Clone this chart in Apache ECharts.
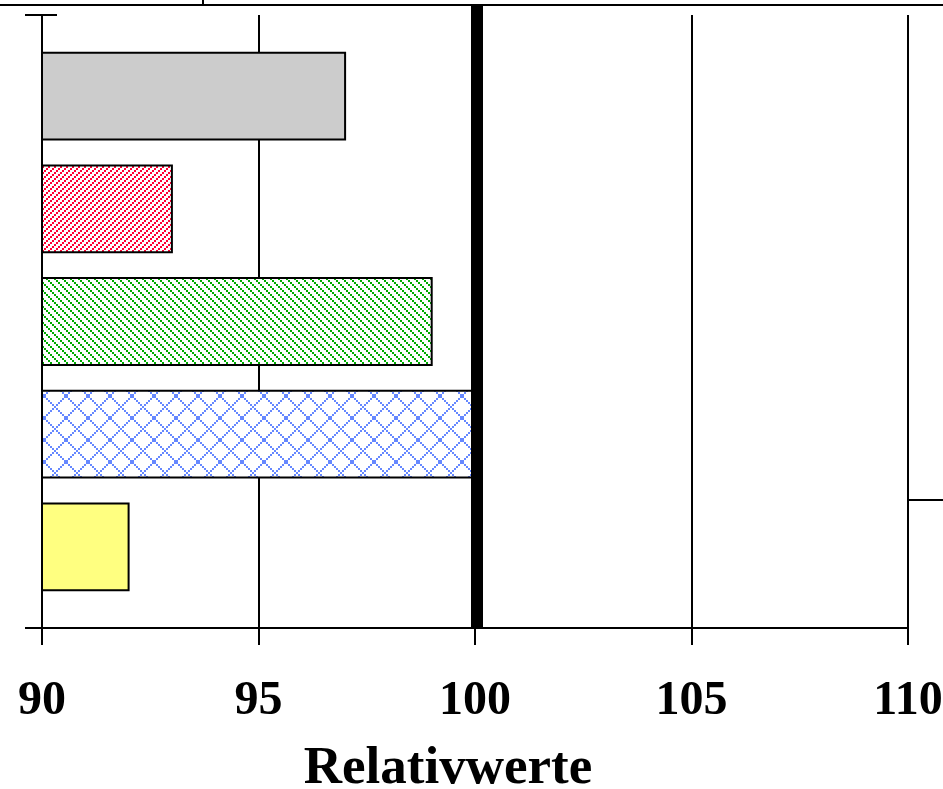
<!DOCTYPE html>
<html>
<head>
<meta charset="utf-8">
<script src="https://cdn.jsdelivr.net/npm/echarts@6/dist/echarts.min.js"></script>
<style>html,body{margin:0;padding:0;background:#fff}#c{width:943px;height:789px}</style>
</head>
<body>
<div id="c"></div>
<script>
// ---- data ----
const categories = ['Reihe 1', 'Reihe 2', 'Reihe 3', 'Reihe 4', 'Reihe 5'];
const values = [97, 93, 99, 100, 92];
const xTickValues = [90, 95, 100, 105, 110];
const referenceValue = 100;
const axisTitle = 'Relativwerte';

// ---- fills ----
function stripeTile(color, period, step, up) {
  const c = document.createElement('canvas');
  c.width = c.height = period;
  const g = c.getContext('2d');
  g.fillStyle = '#fff'; g.fillRect(0, 0, period, period);
  g.fillStyle = color;
  for (let i = 0; i < period; i += step) {
    const x = up ? (period - 2 - i + period) % period : i;
    g.fillRect(x, i, 2, 2);
    if (x + 2 > period) g.fillRect(x - period, i, 2, 2);
  }
  return { image: c, repeat: 'repeat' };
}
function diamondTile(color, period) {
  const c = document.createElement('canvas');
  c.width = c.height = period;
  const g = c.getContext('2d');
  g.fillStyle = '#fff'; g.fillRect(0, 0, period, period);
  g.fillStyle = color;
  for (let i = 0; i < period; i += 2) {
    g.fillRect(i, i, 2, 2);
    g.fillRect(period - 2 - i, i, 2, 2);
  }
  return { image: c, repeat: 'repeat' };
}
const fills = [
  '#cccccc',
  stripeTile('#ff0033', 6, 2, true),
  stripeTile('#00aa00', 8, 2, false),
  diamondTile('#6688ff', 22),
  '#ffff80'
];

const chart = echarts.init(document.getElementById('c'), null, { renderer: 'canvas' });
const yMin = -0.72, yMax = 4.72, barHeight = 0.77;
const font = 'Liberation Serif';

const yAxisBase = {
  type: 'value', inverse: true, min: yMin, max: yMax, position: 'left',
  axisLine: { show: true, onZero: false, lineStyle: { color: '#000', width: 2 } },
  axisLabel: { show: false },
  splitLine: { show: false }
};

chart.setOption({
  animation: false,
  backgroundColor: '#fff',
  grid: { left: 42, right: 35, top: 15, bottom: 161, outerBoundsMode: 'none', containLabel: false },
  xAxis: {
    type: 'value', min: 90, max: 110, interval: 5,
    axisLine: { show: true, onZero: false, lineStyle: { color: '#000', width: 2 } },
    axisTick: { show: true, length: 17, lineStyle: { color: '#000', width: 2 } },
    axisLabel: { color: '#000', fontFamily: font, fontWeight: 'bold', fontSize: 48, margin: 50,
                 customValues: xTickValues },
    splitLine: { show: true, lineStyle: { color: '#000', width: 2 } },
    name: axisTitle, nameLocation: 'middle', nameGap: 115,
    nameTextStyle: { color: '#000', fontFamily: font, fontWeight: 'bold', fontSize: 53, padding: [0, 54, 0, 0] }
  },
  yAxis: [
    Object.assign({}, yAxisBase, {
      axisTick: { show: true, length: 17, customValues: [yMin, yMax], lineStyle: { color: '#000', width: 2 } }
    }),
    Object.assign({}, yAxisBase, {
      axisTick: { show: true, inside: true, length: 15, customValues: [yMin, yMax], lineStyle: { color: '#000', width: 2 } }
    })
  ],
  series: [{
    type: 'custom',
    name: 'Relativwerte',
    xAxisIndex: 0, yAxisIndex: 0,
    encode: { x: 0, y: 1 },
    data: values.map((v, i) => [v, i]),
    renderItem: function (params, api) {
      const v = api.value(0), idx = api.value(1);
      const p0 = api.coord([90, idx]);
      const p1 = api.coord([v, idx]);
      const h = api.size([0, barHeight])[1];
      return {
        type: 'rect',
        shape: { x: p0[0], y: p0[1] - h / 2, width: p1[0] - p0[0], height: h },
        style: { fill: fills[idx], stroke: '#000', lineWidth: 2 }
      };
    }
  }]
});

const xRef = chart.convertToPixel({ xAxisIndex: 0 }, referenceValue);
const yBottom = chart.convertToPixel({ yAxisIndex: 0 }, yMax);
chart.setOption({
  graphic: [
    { type: 'line', z: 100, shape: { x1: xRef + 2, y1: 5, x2: xRef + 2, y2: yBottom }, style: { stroke: '#000', lineWidth: 12 } },
    { type: 'line', z: 100, shape: { x1: 0, y1: 5, x2: 943, y2: 5 }, style: { stroke: '#000', lineWidth: 2 } },
    { type: 'line', z: 100, shape: { x1: 203, y1: 0, x2: 203, y2: 5 }, style: { stroke: '#000', lineWidth: 2 } },
    { type: 'line', z: 100, shape: { x1: 908, y1: 500, x2: 943, y2: 500 }, style: { stroke: '#000', lineWidth: 2 } }
  ]
});
</script>
</body>
</html>
